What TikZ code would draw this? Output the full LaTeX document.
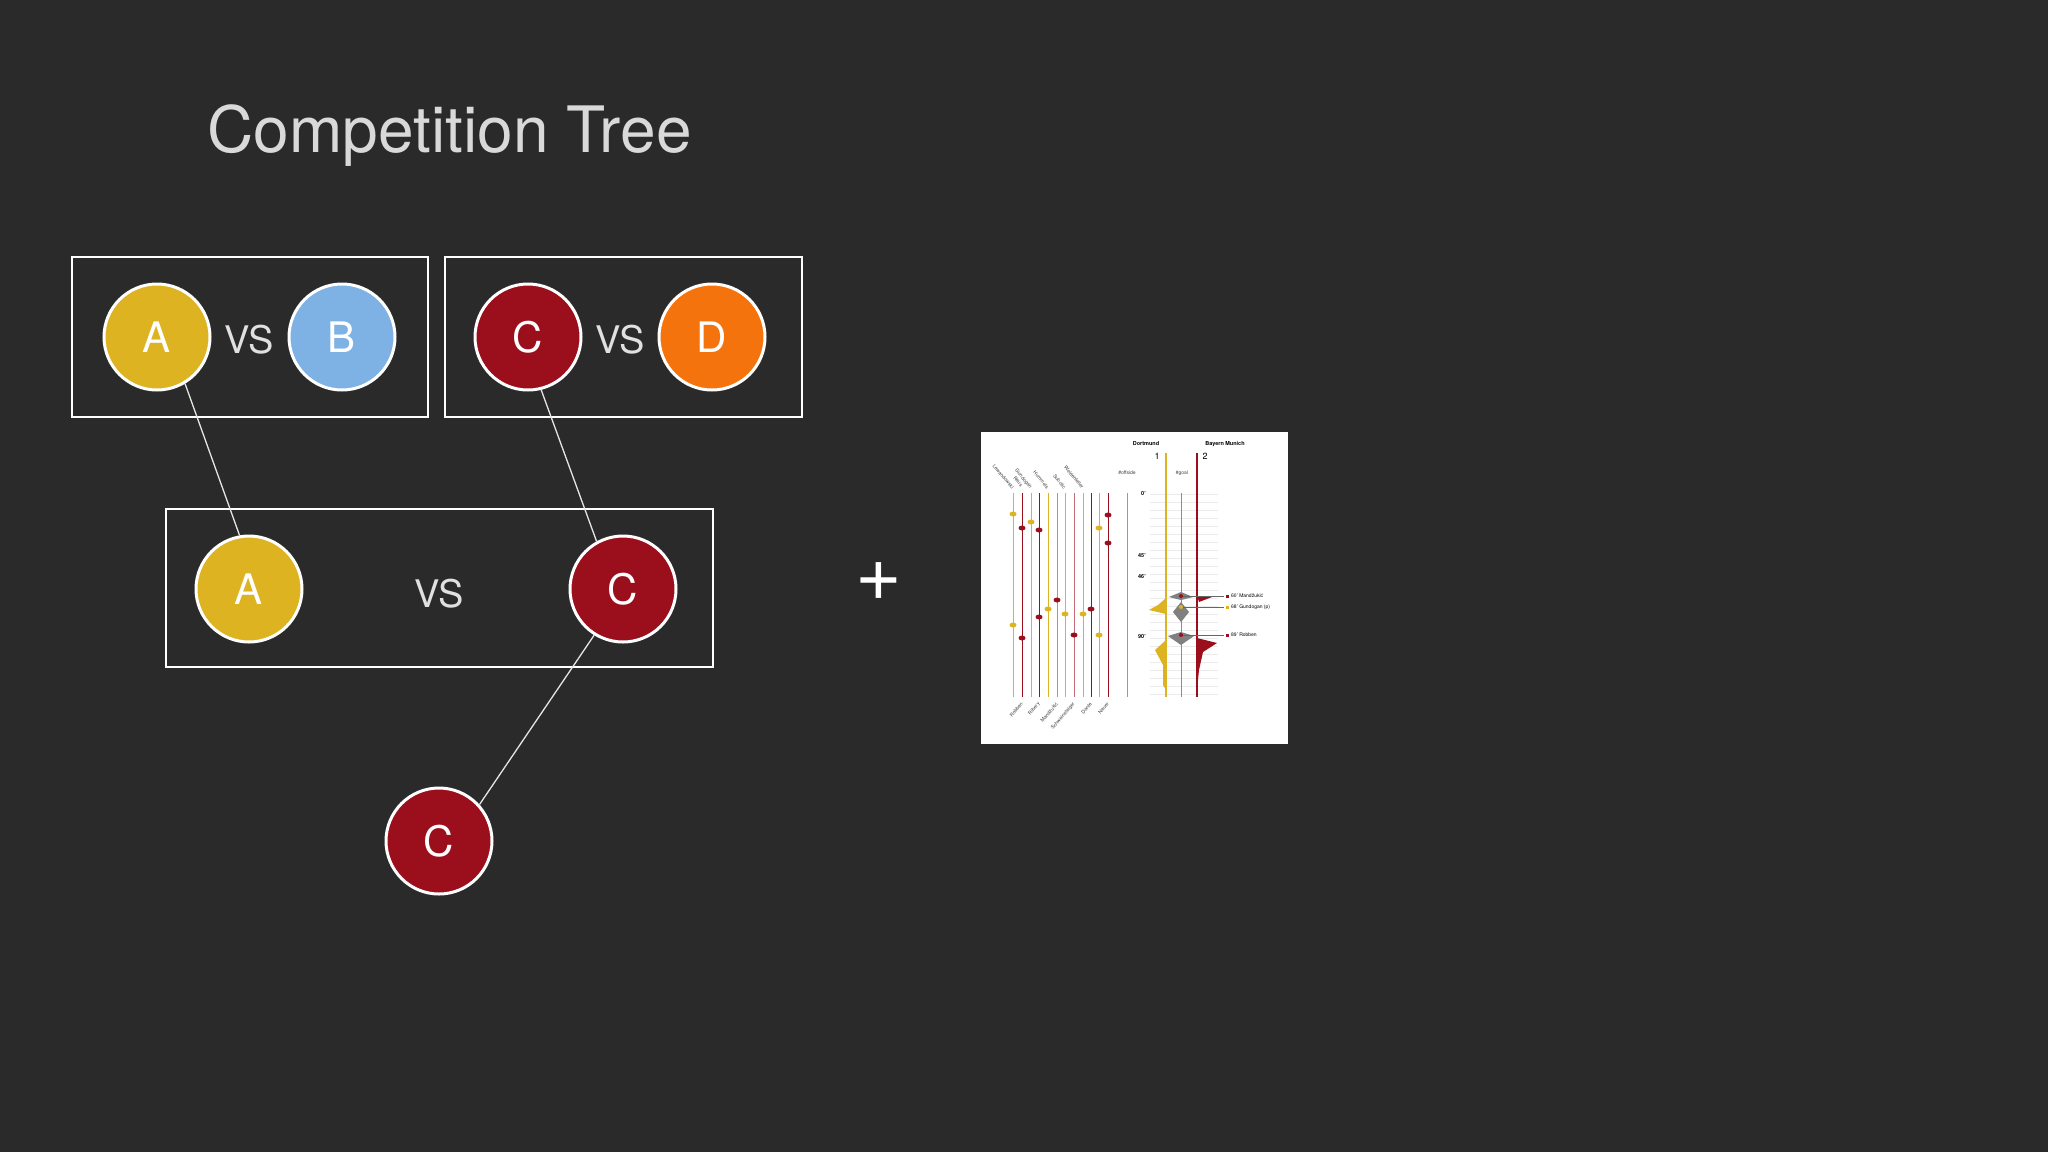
\documentclass[tikz,border=0pt]{standalone}
\usepackage{fontspec}
\setmainfont{TeX Gyre Heros}
\begin{document}
\begin{tikzpicture}[x=1pt,y=-1pt,
  team/.style={circle,draw=white,line width=3pt,minimum size=106pt,inner sep=0pt,text=white,font=\fontsize{42}{46}\selectfont},
  matchbox/.style={draw=white,line width=2.5pt},
  vs/.style={text=white!88!black,font=\fontsize{38}{42}\selectfont},
  link/.style={draw=white!90!black,line width=1.3pt},
  tiny/.style={font=\fontsize{5}{6}\selectfont,text=black!75,inner sep=0pt},
  tinyb/.style={font=\bfseries\fontsize{5.5}{6}\selectfont,text=black,inner sep=0pt}]
\definecolor{bg}{HTML}{2A2A2B}
\definecolor{ca}{HTML}{DDB322}
\definecolor{cb}{HTML}{7EB2E4}
\definecolor{cc}{HTML}{9B0E1C}
\definecolor{cd}{HTML}{F5730C}
\fill[bg] (0,0) rectangle (2048,1152);
\useasboundingbox (0,0) rectangle (2048,1152);
\node[anchor=base west,text=white!85!black,font=\fontsize{64}{70}\selectfont] (title) at (204,152) {Competition Tree};
% boxes
\draw[matchbox] (72,257) rectangle (428,417);
\draw[matchbox] (445,257) rectangle (802,417);
\draw[matchbox] (166,509) rectangle (713,667);
% teams
\node[team,fill=ca] (a1) at (157,337) {A};
\node[team,fill=cb] (b1) at (342,337) {B};
\node[team,fill=cc] (c1) at (528,337) {C};
\node[team,fill=cd] (d1) at (712,337) {D};
\node[vs] (vs1) at (249,340) {VS};
\node[vs] (vs2) at (620,340) {VS};
\node[team,fill=ca] (a2) at (249,589) {A};
\node[team,fill=cc] (c2) at (623,589) {C};
\node[vs] (vs3) at (439,594) {VS};
\node[team,fill=cc] (c3) at (439,841) {C};
\draw[link] (a1.-59) -- (a2.100);
\draw[link] (c1.-76) -- (c2.119);
\draw[link] (c2.-122) -- (c3.42);
\node[text=white,font=\fontsize{80}{80}\selectfont] (plus) at (879,582) {+};
% inset
\fill[white] (981,432) rectangle (1288,744);
\node[tinyb] (dort) at (1146,444) {Dortmund};
\node[tinyb] (bay) at (1225,444) {Bayern Munich};
\node[tiny,font=\fontsize{9}{9}\selectfont,text=black] (s1) at (1157,456) {1};
\node[tiny,font=\fontsize{9}{9}\selectfont,text=black] (s2) at (1205,456) {2};
\node[tiny] (off) at (1127,473) {\#offside};
\node[tiny] (goal) at (1182,473) {\#goal};
\node[tinyb,anchor=east] (t0) at (1146,494) {0'};
\node[tinyb,anchor=east] (t45) at (1146,556) {45'};
\node[tinyb,anchor=east] (t46) at (1146,577) {46'};
\node[tinyb,anchor=east] (t90) at (1146,637) {90'};
\foreach \y in {494,502,510,518,526,534,542,550,558,566,574,582,590,598,606,614,622,630,638,646,654,662,670,678,686,694}
  \draw[black!8,line width=0.4pt] (1150,\y) -- (1218,\y);
\foreach \x/\c in {1013/ca,1022/cc,1031/ca,1039/cc,1048/ca,1057/cc!50,1065/ca,1074/cc!60,1083/ca,1091/cc,1099/ca,1108/cc}
  \draw[\c,line width=0.7pt] (\x,493) -- (\x,697);
\foreach \x/\n in {1013/Lewandowski,1031/Gundogan,1048/Hummels,1065/Subotic,1083/Weidenfeller}
  \node[tiny,rotate=-50,anchor=east] at (\x,488) {\n};
\node[tiny,rotate=-50,anchor=east] at (1022,486) {Reus};
\foreach \x/\n in {1022/Robben,1039/Ribery,1057/Mandžukić,1074/Schweinsteiger,1091/Dante,1108/Neuer}
  \node[tiny,rotate=50,anchor=east] at (\x,703) {\n};
\foreach \x/\y/\c in {1013/514/ca,1013/625/ca,1022/528/cc,1022/638/cc,1031/522/ca,1039/530/cc,1039/617/cc,1048/609/ca,1057/600/cc,1065/614/ca,1074/635/cc,1083/614/ca,1091/609/cc,1099/528/ca,1099/635/ca,1108/515/cc,1108/543/cc}
  \fill[\c] (\x,\y) ellipse (3.5pt and 2.5pt);
\draw[black!40,line width=0.6pt] (1127,493) -- (1127,697);
\draw[black!45,line width=0.6pt] (1181,493) -- (1181,697);
\draw[ca,line width=1.2pt] (1166,453) -- (1166,697);
\draw[cc,line width=1.2pt] (1197,453) -- (1197,697);
\fill[ca] (1166,598) -- (1158,605) -- (1149,610) -- (1166,614) -- cycle;
\fill[ca] (1166,640) -- (1155,650) -- (1163,665) -- (1163,685) -- (1166,690) -- cycle;
\fill[cc] (1197,638) -- (1217,643) -- (1203,652) -- (1199,670) -- (1197,690) -- cycle;
\fill[cc] (1197,596) -- (1212,597) -- (1199,602) -- cycle;
\fill[black!50] (1181,592) -- (1169,597) -- (1181,600) -- (1193,597) -- cycle;
\fill[black!50] (1181,602) -- (1173,612) -- (1181,622) -- (1189,612) -- cycle;
\fill[black!50] (1181,632) -- (1168,636) -- (1181,645) -- (1194,636) -- cycle;
\foreach \y/\c in {596/cc,607/ca,635/cc}{
  \draw[black!60,line width=0.4pt] (1181,\y) -- (1224,\y);
  \fill[\c] (1181,\y) circle (2pt);
  \fill[\c] (1226,\y-1.5) rectangle (1229,\y+1.5);}
\node[tiny,anchor=west,text=black] (g1) at (1231,596) {60' Mandžukić};
\node[tiny,anchor=west,text=black] (g2) at (1231,607) {68' Gundogan (p)};
\node[tiny,anchor=west,text=black] (g3) at (1231,635) {89' Robben};
\end{tikzpicture}
\end{document}
